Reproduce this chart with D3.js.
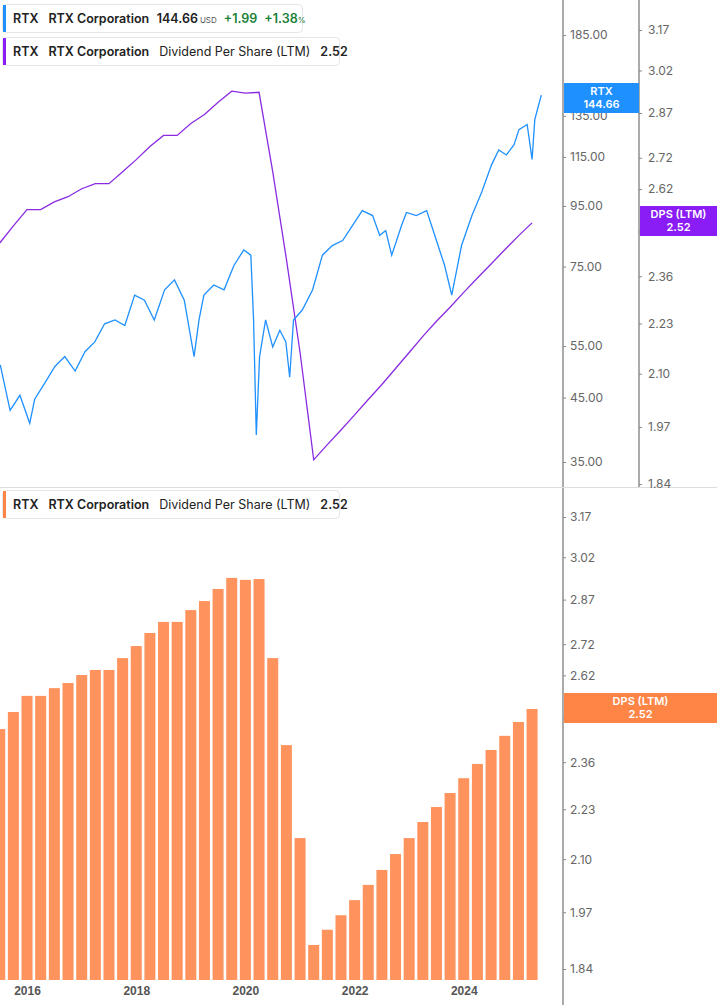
<!DOCTYPE html><html><head><meta charset="utf-8"><script src="https://cdn.jsdelivr.net/npm/d3@7"></script>
<style>body{margin:0;background:#fff;font-family:Inter,"Noto Sans",sans-serif}</style></head><body><svg id="c" width="717" height="1005"></svg>
<script>
const dpsStart = 2015.5; // quarterly
const dpsValues = [2.456,2.507,2.556,2.556,2.580,2.596,2.621,2.637,2.637,2.675,2.714,2.757,2.794,2.794,2.834,2.865,2.907,2.946,2.939,2.942,2.675,2.409,2.154,1.894,1.929,1.963,1.999,2.036,2.073,2.113,2.154,2.196,2.236,2.274,2.315,2.355,2.395,2.436,2.477,2.516];
const priceYears = [2015.51,2015.69,2015.87,2016.05,2016.14,2016.33,2016.51,2016.69,2016.88,2017.06,2017.24,2017.42,2017.61,2017.79,2017.97,2018.15,2018.33,2018.52,2018.70,2018.88,2019.06,2019.15,2019.24,2019.42,2019.61,2019.79,2019.97,2020.10,2020.15,2020.20,2020.26,2020.37,2020.50,2020.63,2020.74,2020.81,2020.88,2021.04,2021.23,2021.41,2021.59,2021.78,2021.96,2022.14,2022.33,2022.46,2022.57,2022.68,2022.86,2022.95,2023.13,2023.32,2023.50,2023.65,2023.78,2023.87,2023.96,2024.15,2024.33,2024.51,2024.64,2024.78,2024.92,2025.01,2025.16,2025.25,2025.30,2025.37,2025.42];
const priceValues = [51.1,42.8,45.4,40.7,44.7,47.7,50.8,52.8,49.9,53.8,55.9,60.0,60.9,59.6,67.1,65.8,60.9,68.5,71.2,65.8,52.8,60.9,67.1,69.8,68.5,75.3,80.0,78.4,60.9,38.9,52.8,60.9,54.8,58.5,55.9,48.7,60.9,63.3,68.5,78.4,81.4,83.0,88.0,93.3,91.5,84.7,86.3,78.4,88.0,92.6,91.5,93.3,83.0,75.3,67.1,73.9,81.4,91.5,100.3,111.6,118.2,115.9,120.6,127.9,130.5,113.9,133.0,140.8,146.3];
const priceTicks = [185,135,115,95,75,55,45,35];
const dpsTicks = [3.17,3.02,2.87,2.72,2.62,2.49,2.36,2.23,2.10,1.97,1.84];
const yearTicks = [2016,2018,2020,2022,2024];

const yd = y => { const yr=Math.floor(y); const s=new Date(yr,0,1), e=new Date(yr+1,0,1); return new Date(+s+(y-yr)*(e-s)); };
const svg = d3.select("#c");
const x = d3.scaleTime().domain([yd(2015.505), yd(2025.817)]).range([0,563]);
const yP = d3.scaleLog().domain([35,185]).range([462,35]);
const yD1 = d3.scaleLog().domain([1.84,3.17]).range([484,30]);
const yD2 = d3.scaleLog().domain([1.84,3.17]).range([969,517]);
const dps = dpsValues.map((v,i)=>({t:yd(dpsStart+i*0.25),v}));
const price = priceYears.map((t,i)=>({t:yd(t),v:priceValues[i]}));

const bw = 11;
svg.append("g").selectAll("rect").data(dps).join("rect")
 .attr("x",d=>x(d.t)-bw/2).attr("width",bw).attr("y",d=>yD2(d.v)).attr("height",d=>980-yD2(d.v)).attr("fill","#FF935E");
svg.append("rect").attr("x",563).attr("y",488).attr("width",154).attr("height",517).attr("fill","#fff");

svg.append("path").datum(dps).attr("fill","none").attr("stroke","#8A2BE2").attr("stroke-width",1.3)
 .attr("d",d3.line().x(d=>x(d.t)).y(d=>yD1(d.v)));
svg.append("path").datum(price).attr("fill","none").attr("stroke","#1E90FF").attr("stroke-width",1.3)
 .attr("d",d3.line().x(d=>x(d.t)).y(d=>yP(d.v)));

svg.append("line").attr("x1",0).attr("x2",717).attr("y1",487.5).attr("y2",487.5).attr("stroke","#ddd");
const axStyle = g=>{g.select(".domain").attr("stroke","#aaa").attr("stroke-width",2);g.selectAll(".tick line").attr("stroke","#888");g.selectAll("text").attr("fill","#666").attr("font-size",12).attr("font-family","Inter,sans-serif");};
svg.append("g").attr("transform","translate(563,0)").call(d3.axisRight(yP).tickValues(priceTicks).tickFormat(d3.format(".2f")).tickSize(3).tickPadding(4)).call(axStyle).call(g=>g.select(".domain").attr("d","M0,0V487"));
svg.append("g").attr("transform","translate(639,0)").call(d3.axisRight(yD1).tickValues(dpsTicks).tickFormat(d3.format(".2f")).tickSize(3).tickPadding(6)).call(axStyle).call(g=>g.select(".domain").attr("d","M0,0V487"));
svg.append("g").attr("transform","translate(563,0)").call(d3.axisRight(yD2).tickValues(dpsTicks).tickFormat(d3.format(".2f")).tickSize(3).tickPadding(4)).call(axStyle).call(g=>g.select(".domain").attr("d","M0,488V1005"));
svg.append("g").attr("transform","translate(0,978)").call(d3.axisBottom(x).tickValues(yearTicks.map(y=>yd(y))).tickFormat(d3.timeFormat("%Y")).tickSize(0).tickPadding(8))
 .call(g=>{g.select(".domain").remove();g.selectAll("text").attr("fill","#555").attr("font-size",12).attr("font-weight",600);});

function tag(x0,w,yc,col,l1,l2){svg.append("rect").attr("x",x0).attr("y",yc-15).attr("width",w).attr("height",30).attr("fill",col);
 svg.append("text").attr("x",x0+w/2).attr("y",yc-3).attr("text-anchor","middle").attr("fill","#fff").attr("font-size",11).attr("font-weight",600).text(l1);
 svg.append("text").attr("x",x0+w/2).attr("y",yc+10).attr("text-anchor","middle").attr("fill","#fff").attr("font-size",11).attr("font-weight",600).text(l2);}
tag(564,75,98,"#1E90FF","RTX","144.66");
tag(640,77,221,"#8A1CF5","DPS (LTM)","2.52");
tag(564,153,708,"#FF8547","DPS (LTM)","2.52");

function legend(y,w,col,parts){const g=svg.append("g");g.append("rect").attr("x",2.5).attr("y",y+0.5).attr("width",w).attr("height",28).attr("rx",4).attr("fill","#fff").attr("stroke","#e6e6e6");
 g.append("rect").attr("x",3).attr("y",y+1).attr("width",3).attr("height",27).attr("fill",col);
 const t=g.append("text").attr("x",13).attr("y",y+19).attr("font-size",12.5).attr("fill","#222");
 parts.forEach(p=>t.append("tspan").attr("dx",p.dx||0).attr("font-weight",p.w||400).attr("font-size",p.s||12.5).attr("fill",p.c||"#222").text(p.t));}
legend(4,300,"#1E90FF",[{t:"RTX",w:600},{t:"RTX Corporation",w:600,dx:10},{t:"144.66",w:600,dx:8},{t:"USD",s:8,dx:2,c:"#555"},{t:"+1.99",w:600,dx:7,c:"#1a7f37"},{t:"+1.38",w:600,dx:7,c:"#1a7f37"},{t:"%",s:8,c:"#1a7f37"}]);
legend(37,337,"#8A1CF5",[{t:"RTX",w:600},{t:"RTX Corporation",w:600,dx:10},{t:"Dividend Per Share (LTM)",dx:10},{t:"2.52",w:600,dx:10}]);
legend(490,337,"#FF8547",[{t:"RTX",w:600},{t:"RTX Corporation",w:600,dx:10},{t:"Dividend Per Share (LTM)",dx:10},{t:"2.52",w:600,dx:10}]);
</script></body></html>
